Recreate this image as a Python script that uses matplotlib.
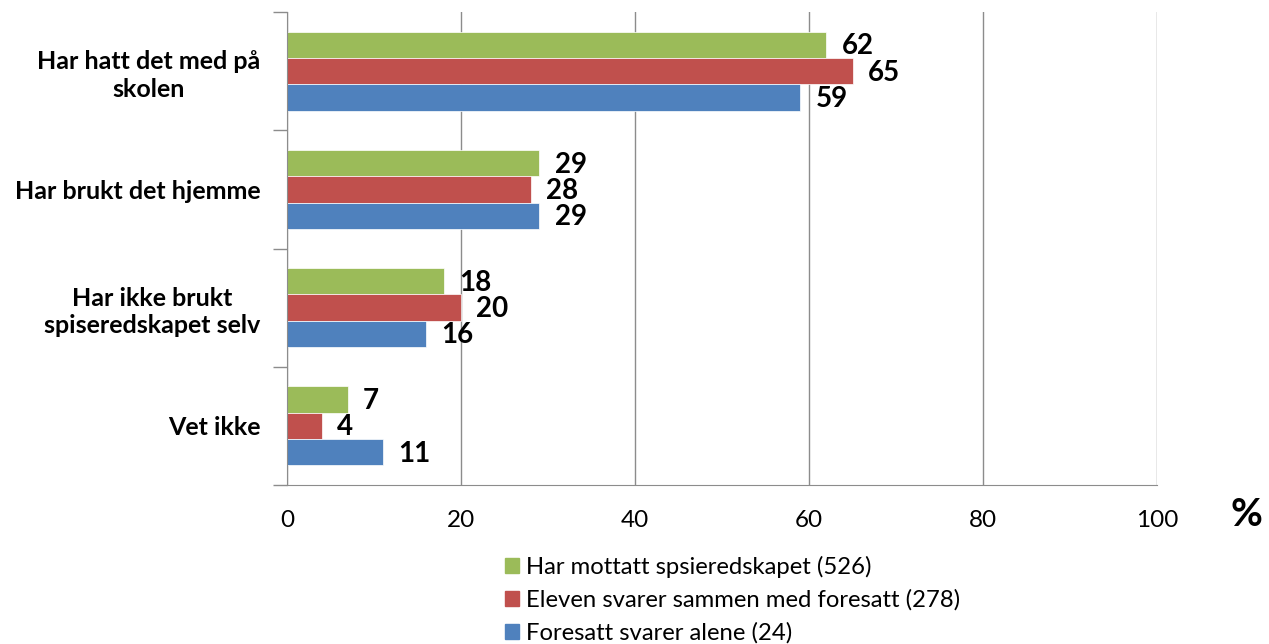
import numpy as np
import matplotlib.pyplot as plt
from matplotlib.patches import Patch

plt.rcParams['font.family'] = ['Lato', 'DejaVu Sans']

# kategorier og verdier (%)
kategorier = ["Har hatt det med på\nskolen", "Har brukt det hjemme",
              "Har ikke brukt\nspiseredskapet selv", "Vet ikke"]
serier = ["Har mottatt spsieredskapet (526)",
          "Eleven svarer sammen med foresatt (278)",
          "Foresatt svarer alene (24)"]
mottatt = [62, 29, 18, 7]
sammen = [65, 28, 20, 4]
alene = [59, 29, 16, 11]
xticks = [0, 20, 40, 60, 80, 100]

farger = ['#9BBB59', '#C0504D', '#4F81BD']

fig = plt.figure(figsize=(12.69, 6.44), dpi=100)
ax = fig.add_axes([287 / 1269, 1 - 485 / 644, 870 / 1269, 473 / 644])

y = np.arange(len(kategorier))
h = 0.222
for k, (verdier, farge) in enumerate(zip([mottatt, sammen, alene], farger)):
    pos = y + (k - 1) * h
    ax.barh(pos, verdier, height=h, color=farge, edgecolor='white', linewidth=0.5)
    for p, v in zip(pos, verdier):
        ax.annotate(str(v), (v, p), xytext=(11, -1), textcoords='offset points',
                    va='center', ha='left', fontsize=20, fontweight='bold')

ax.set_xlim(0, 100)
ax.set_ylim(len(kategorier) - 0.5, -0.5)
ax.set_xticks(xticks)
ax.set_xticklabels([str(t) for t in xticks], fontsize=17.5)
ax.tick_params(axis='x', length=0, pad=18)
ax.xaxis.grid(True, color='#8c8c8c', linewidth=1)
ax.set_axisbelow(True)

# kategorigrenser som tick-merker
ax.set_yticks(np.arange(-0.5, len(kategorier), 1))
ax.set_yticklabels([])
ax.tick_params(axis='y', length=10, color='#8c8c8c', width=1)
ax.set_yticks(y, minor=True)
ax.set_yticklabels(kategorier, minor=True, fontsize=18, fontweight='bold',
                   ha='right', multialignment='center', linespacing=1.25)
ax.tick_params(axis='y', which='minor', length=0, pad=19)

for s in ['top', 'right']:
    ax.spines[s].set_visible(False)
ax.spines['left'].set_color('#8c8c8c')
ax.spines['bottom'].set_color('#8c8c8c')

fig.text(1246 / 1269, 1 - 515 / 644, '%', fontsize=28, fontweight='bold',
         ha='center', va='center')

handles = [Patch(color=f) for f in farger]
fig.legend(handles, serier, loc='upper left',
           bbox_to_anchor=(493 / 1269, 1 - 544 / 644), frameon=False,
           fontsize=17.2, handlelength=0.6, handleheight=0.6,
           handletextpad=0.3, labelspacing=0.48, borderpad=0)

fig.savefig('out.png', dpi=100)
